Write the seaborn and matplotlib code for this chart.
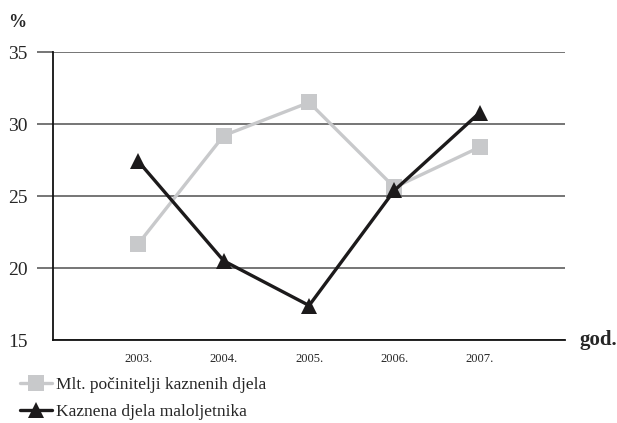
import seaborn as sns
import matplotlib.pyplot as plt
import pandas as pd

years = ["2003.", "2004.", "2005.", "2006.", "2007."]
mlt_pocinitelji = [21.7, 29.2, 31.5, 25.6, 28.4]
kaznena_djela = [27.4, 20.5, 17.4, 25.4, 30.8]
series_names = ["Mlt. počinitelji kaznenih djela", "Kaznena djela maloljetnika"]
y_ticks = [15, 20, 25, 30, 35]

df = pd.DataFrame({
    "idx": list(range(len(years))) * 2,
    "value": mlt_pocinitelji + kaznena_djela,
    "serie": [series_names[0]] * len(years) + [series_names[1]] * len(years),
})

sns.set_style("white")
plt.rcParams["font.family"] = ["Liberation Serif", "DejaVu Serif"]

fig = plt.figure(figsize=(6.17, 4.23), dpi=100)
ax = fig.add_axes([0.086, 0.196, 0.83, 0.681])

sns.lineplot(data=df, x="idx", y="value", hue="serie", style="serie",
             palette=["#c8c9cb", "#1c1a1b"], markers=["s", "^"], dashes=False,
             linewidth=2.4, markersize=11, markeredgewidth=0, ax=ax, zorder=3)

ax.set_xlim(-1, 5)
ax.set_ylim(15, 35)
ax.set_xticks(range(len(years)))
ax.set_xticklabels(years, fontsize=9)
ax.set_yticks(y_ticks)
ax.set_yticklabels([str(t) for t in y_ticks], fontsize=14)
ax.tick_params(axis="x", bottom=False, length=0, pad=9)
ax.tick_params(axis="y", left=True, length=11.5, width=1.3, color="#6a6a6a", pad=7)
ax.yaxis.get_major_ticks()[0].tick1line.set_visible(False)
ax.grid(axis="y", color="#6a6a6a", linewidth=1.3)
ax.set_axisbelow(True)
for s in ["top", "right"]:
    ax.spines[s].set_visible(False)
for s in ["left", "bottom"]:
    ax.spines[s].set_color("#111111")
    ax.spines[s].set_linewidth(1.3)
ax.set_xlabel("")
ax.set_ylabel("")

fig.text(0.013, 0.935, "%", fontsize=13, fontweight="bold")
fig.text(0.94, 0.196, "god.", fontsize=15, fontweight="bold", va="center")

handles, labels = ax.get_legend_handles_labels()
ax.legend(handles, labels, loc="upper left", bbox_to_anchor=(-0.078, -0.104),
          frameon=False, fontsize=12.5, handlelength=1.85, handletextpad=0.2,
          labelspacing=0.6, borderaxespad=0)

plt.savefig("out.png")
plt.close()
